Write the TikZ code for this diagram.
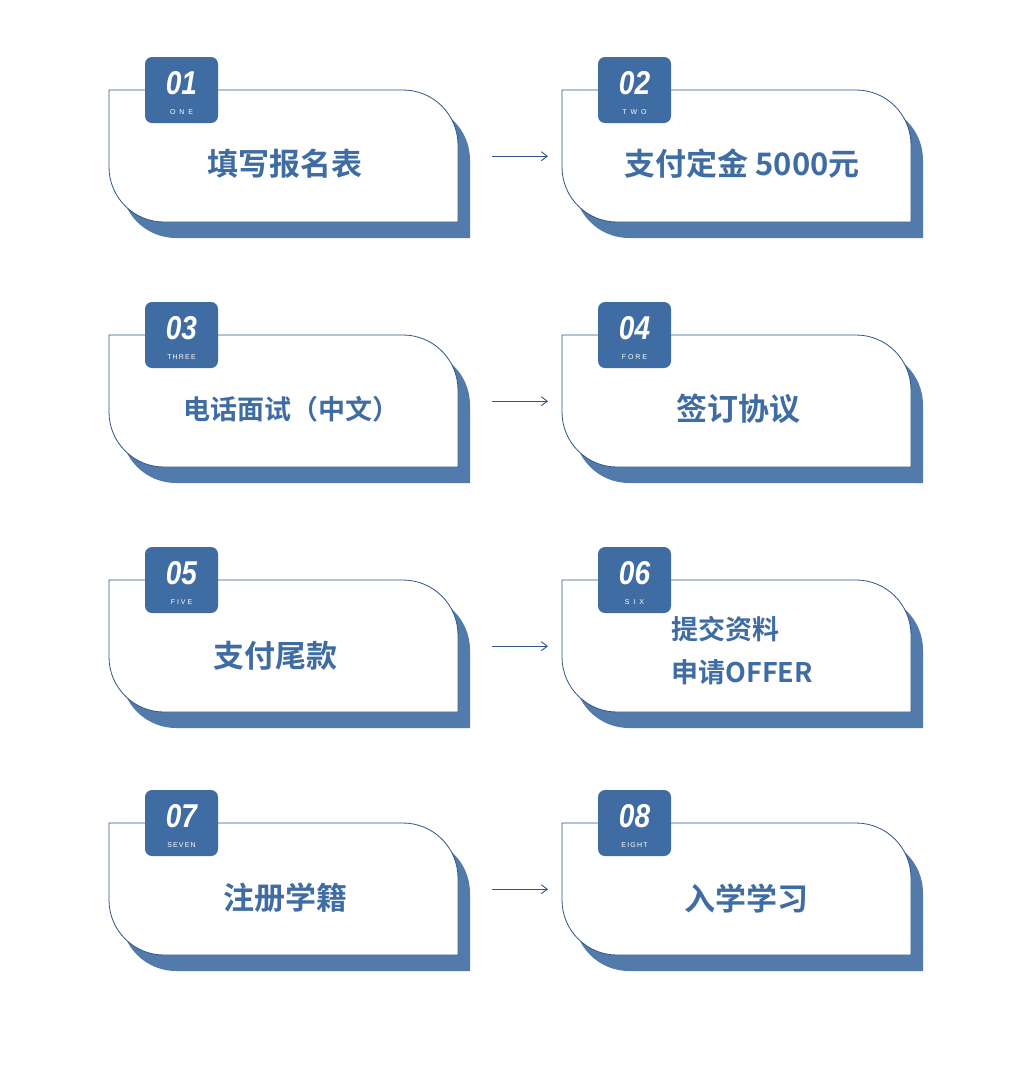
\documentclass[tikz,border=0pt]{standalone}
\usepackage{fontspec}
\newfontfamily\cjk{Noto Sans CJK SC Bold}
\newfontfamily\lbl{Liberation Sans}
\usetikzlibrary{arrows.meta,calc}
\definecolor{cb}{HTML}{3F6CA3}
\definecolor{cbd}{HTML}{2F5588}
\tikzset{
  cardtext/.style={font=\cjk\fontsize{31}{36}\selectfont, text=cb},
  badgenum/.style={font=\lbl\bfseries\itshape\fontsize{33}{33}\selectfont, text=white, xscale=0.85},
  badgeword/.style={font=\lbl\fontsize{7}{8}\selectfont, text=white},
  flow/.style={-{Straight Barb[length=6pt,width=9pt]}, line width=0.9pt, draw=cbd}
}
\newcommand{\cardpath}[4]{(#1,#2) -- (#3-55,#2) arc[start angle=-90, end angle=0, radius=55] -- (#3,#4) -- (#1+55,#4) arc[start angle=90, end angle=180, radius=55] -- cycle}
\newcommand{\mkcard}[5]{%
  \begin{scope}[shift={(#2,#3)}]
    \fill[cb!90] \cardpath{12}{15}{361}{148};
    \filldraw[fill=white, draw=cbd, line width=0.8pt] \cardpath{0}{0}{349}{132};
    \fill[cb, rounded corners=7] (36,-33) rectangle (109,33);
    \node[badgenum] at (72.5,-7) {#4};
    \node[badgeword] at (72.5,22) {#5};
    \node[minimum width=349pt, minimum height=132pt, anchor=north west, inner sep=0] (#1) at (0,0) {};
  \end{scope}}
\begin{document}
\begin{tikzpicture}[x=1pt,y=-1pt]
\useasboundingbox (0,0) rectangle (1030,1077);
\fill[white] (0,0) rectangle (1030,1077);
\mkcard{c1}{109}{90}{01}{O\ \ N\ \ E}
\mkcard{c2}{562}{90}{02}{T\ \ W\ \ O}
\mkcard{c3}{109}{335}{03}{T\,H\,R\,E\,E}
\mkcard{c4}{562}{335}{04}{F\ O\ R\ E}
\mkcard{c5}{109}{580}{05}{F\ I\ V\ E}
\mkcard{c6}{562}{580}{06}{S\ \ I\ \ X}
\mkcard{c7}{109}{823}{07}{S\,E\,V\,E\,N}
\mkcard{c8}{562}{823}{08}{E\,I\,G\,H\,T}
\node[cardtext] (t1) at (285,164) {填写报名表};
\node[cardtext] (t2) at (742,164) {支付定金 5000元};
\node[cardtext, font=\cjk\fontsize{27}{32}\selectfont] (t3) at (291,409) {电话面试（中文）};
\node[cardtext] (t4) at (738,409) {签订协议};
\node[cardtext] (t5) at (275,656) {支付尾款};
\node[cardtext, align=left, anchor=west, font=\cjk\fontsize{27}{43}\selectfont] (t6) at (668,651) {提交资料\\申请OFFER};
\node[cardtext] (t7) at (285,898) {注册学籍};
\node[cardtext] (t8) at (746,898) {入学学习};
\draw[flow] ([xshift=34pt]c1.east) -- ([xshift=-14pt]c2.west);
\draw[flow] ([xshift=34pt]c3.east) -- ([xshift=-14pt]c4.west);
\draw[flow] ([xshift=34pt]c5.east) -- ([xshift=-14pt]c6.west);
\draw[flow] ([xshift=34pt]c7.east) -- ([xshift=-14pt]c8.west);
\end{tikzpicture}
\end{document}
